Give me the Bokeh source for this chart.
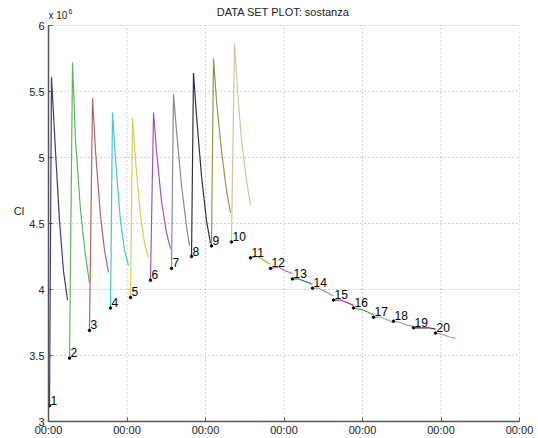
from bokeh.plotting import figure
from bokeh.models import Range1d, FixedTicker, ColumnDataSource
from bokeh.embed import file_html
from bokeh.resources import INLINE
from bokeh.core.properties import value

# ---- data (y in units of 10^6) ----
seg_labels = [str(i) for i in range(1, 21)]

seg_x = [
    [0.013, 0.038, 0.089, 0.140, 0.191, 0.242],
    [0.268, 0.306, 0.344, 0.408, 0.471, 0.522],
    [0.522, 0.561, 0.599, 0.662, 0.713, 0.764],
    [0.790, 0.815, 0.854, 0.917, 0.968, 1.019],
    [1.045, 1.070, 1.108, 1.172, 1.223, 1.274],
    [1.299, 1.338, 1.376, 1.439, 1.503, 1.554],
    [1.567, 1.592, 1.631, 1.694, 1.758, 1.796],
    [1.822, 1.847, 1.885, 1.949, 2.013, 2.064],
    [2.076, 2.102, 2.140, 2.204, 2.268, 2.318],
    [2.331, 2.369, 2.408, 2.459, 2.522, 2.573],
    [2.573, 2.650, 2.726, 2.828],
    [2.828, 2.930, 3.019, 3.108],
    [3.108, 3.185, 3.274, 3.363],
    [3.363, 3.440, 3.541, 3.631],
    [3.631, 3.720, 3.809, 3.885],
    [3.885, 3.975, 4.064, 4.140],
    [4.140, 4.229, 4.318, 4.395],
    [4.395, 4.484, 4.573, 4.650],
    [4.650, 4.739, 4.841, 4.930],
    [4.930, 5.019, 5.108, 5.185],
]

seg_y = [
    [3.12, 5.61, 5.05, 4.52, 4.14, 3.92],
    [3.48, 5.72, 5.13, 4.60, 4.26, 4.05],
    [3.69, 5.45, 5.05, 4.56, 4.30, 4.13],
    [3.86, 5.34, 4.98, 4.52, 4.30, 4.18],
    [3.94, 5.30, 4.98, 4.56, 4.35, 4.24],
    [4.07, 5.34, 5.05, 4.67, 4.43, 4.31],
    [4.16, 5.48, 5.20, 4.79, 4.48, 4.33],
    [4.25, 5.64, 5.32, 4.86, 4.52, 4.35],
    [4.33, 5.75, 5.43, 5.05, 4.75, 4.58],
    [4.36, 5.86, 5.51, 5.13, 4.83, 4.64],
    [4.24, 4.25, 4.23, 4.19],
    [4.16, 4.17, 4.14, 4.12],
    [4.08, 4.08, 4.06, 4.04],
    [4.01, 4.01, 3.98, 3.95],
    [3.92, 3.92, 3.90, 3.88],
    [3.86, 3.85, 3.83, 3.81],
    [3.79, 3.79, 3.77, 3.75],
    [3.76, 3.75, 3.73, 3.72],
    [3.71, 3.71, 3.71, 3.70],
    [3.67, 3.66, 3.64, 3.63],
]

seg_colors = [
    "#3c3c80", "#5cb85c", "#b06464", "#44c4d4", "#d8cc5a",
    "#a454b4", "#8a8a8a", "#30304e", "#94944a", "#d4c49a",
    "#a4b42c", "#c860c8", "#2a8466", "#86a4c4", "#c42656",
    "#44a444", "#88c488", "#9898d4", "#542424", "#e488a8",
]

x_ticks = [0, 1, 2, 3, 4, 5, 6]
x_tick_labels = ["00:00"] * 7
y_ticks = [3, 3.5, 4, 4.5, 5, 5.5, 6]
y_tick_labels = ["3", "3.5", "4", "4.5", "5", "5.5", "6"]

title_text = "DATA SET PLOT: sostanza"
y_label = "Cl"
y_scale_text = "x 10"
y_scale_exp = "6"

FONT = "Liberation Sans"
Y_TOP = 6 + 25 / 132.0   # room above the axes box for title texts

p = figure(width=538, height=438, output_backend="svg", toolbar_location=None,
           x_range=Range1d(0, 6), y_range=Range1d(3, Y_TOP),
           min_border_left=48, min_border_right=19,
           min_border_top=0, min_border_bottom=17)
p.background_fill_color = "white"
p.border_fill_color = "white"
p.outline_line_color = None

# vertical dotted grid, limited to the axes box
p.xgrid.visible = False
p.segment(x0=x_ticks, y0=[y_ticks[0]] * len(x_ticks),
          x1=x_ticks, y1=[y_ticks[-1]] * len(x_ticks),
          line_color="#9a9a9a", line_dash="1 3", line_width=1)
p.ygrid.ticker = FixedTicker(ticks=y_ticks)
p.ygrid.grid_line_color = "#9a9a9a"
p.ygrid.grid_line_dash = "1 3"

for xs, ys, c in zip(seg_x, seg_y, seg_colors):
    p.line(xs, ys, line_color=c, line_width=1.2)

start_src = ColumnDataSource(dict(
    x=[xs[0] for xs in seg_x],
    y=[ys[0] for ys in seg_y],
    t=seg_labels,
))
p.scatter("x", "y", source=start_src, size=2.5, color="black")
p.text("x", "y", text="t", source=start_src, x_offset=1, y_offset=-1,
       text_font=value(FONT), text_font_size="12px", text_color="black",
       text_align="left", text_baseline="bottom")

# axes
for ax in (p.xaxis[0], p.yaxis[0]):
    ax.axis_line_color = "#555555"
    ax.axis_line_width = 1.5
    ax.major_tick_in = 4
    ax.major_tick_out = 0
    ax.minor_tick_line_color = None
    ax.major_tick_line_color = "#555555"
    ax.major_label_text_font = FONT
    ax.major_label_text_font_size = "11px"
    ax.major_label_text_color = "#222222"

p.xaxis.ticker = FixedTicker(ticks=x_ticks)
p.xaxis.major_label_overrides = {t: l for t, l in zip(x_ticks, x_tick_labels)}
p.xaxis.major_label_standoff = 2
p.yaxis.ticker = FixedTicker(ticks=y_ticks)
p.yaxis.major_label_overrides = {t: l for t, l in zip(y_ticks, y_tick_labels)}
p.yaxis.major_label_standoff = 4
p.yaxis.bounds = (y_ticks[0], y_ticks[-1])
p.yaxis.axis_label = y_label
p.yaxis.axis_label_orientation = "horizontal"
p.yaxis.axis_label_standoff = 2
p.yaxis.axis_label_text_font = FONT
p.yaxis.axis_label_text_font_size = "11px"
p.yaxis.axis_label_text_font_style = "normal"
p.yaxis.axis_label_text_color = "#222222"

# title and scale factor, drawn in the strip above the axes box
p.text(x=[2.99], y=[6.1], text=[title_text], text_font=value(FONT),
       text_font_size="11px", text_color="#222222",
       text_align="center", text_baseline="middle")
p.text(x=[0.0], y=[6.075], text=[y_scale_text], text_font=value(FONT),
       text_font_size="10px", text_color="#222222",
       text_align="left", text_baseline="middle")
p.text(x=[0.255], y=[6.105], text=[y_scale_exp], text_font=value(FONT),
       text_font_size="7px", text_color="#222222",
       text_align="left", text_baseline="middle")

open("out.html", "w").write(file_html(p, INLINE))
